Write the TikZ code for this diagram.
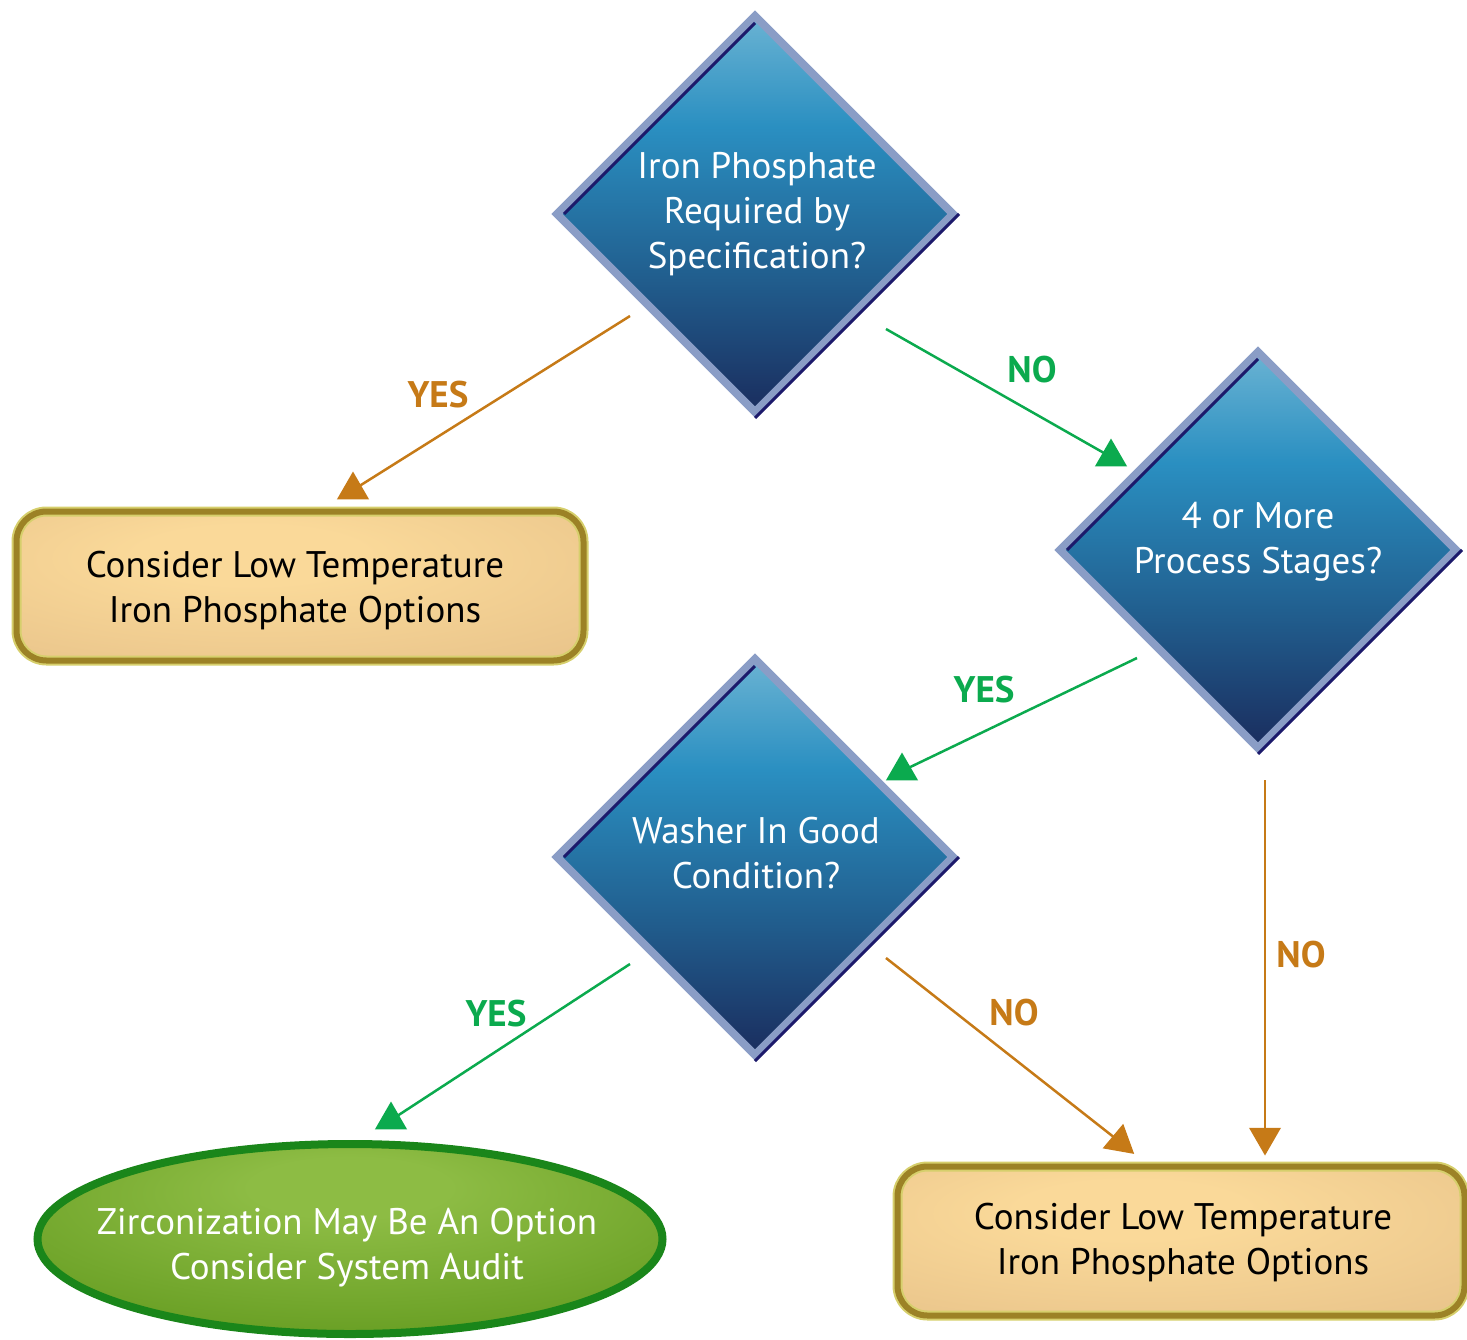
\documentclass[tikz,border=0pt]{standalone}
\usepackage{fontspec}
\setmainfont{PT Sans}
\usetikzlibrary{shapes.geometric,calc}
\definecolor{dtop}{HTML}{6AB3D3}
\definecolor{dmid}{HTML}{2A8FC1}
\definecolor{dlow}{HTML}{215E8E}
\definecolor{dbot}{HTML}{1A2D5E}
\definecolor{dedge}{HTML}{8A9DC6}
\definecolor{dnavy}{HTML}{1C1A6B}
\definecolor{corange}{HTML}{C67A17}
\definecolor{cgreen}{HTML}{0BAA4E}
\definecolor{boxin}{HTML}{FAD999}
\definecolor{boxout}{HTML}{E8C38A}
\definecolor{boxedge}{HTML}{9C8226}
\definecolor{boxlight}{HTML}{D6CF6C}
\definecolor{ellin}{HTML}{8DBC44}
\definecolor{ellout}{HTML}{5A9317}
\definecolor{elledge}{HTML}{1A861A}
\pgfdeclareverticalshading{dshade}{100bp}{color(0bp)=(dbot); color(25bp)=(dbot); color(42bp)=(dlow); color(61bp)=(dmid); color(75bp)=(dtop); color(100bp)=(dtop)}
\pgfdeclareradialshading{bshade}{\pgfpoint{-5bp}{12bp}}{color(0bp)=(boxin); color(10bp)=(boxin); color(42bp)=(boxout); color(80bp)=(boxout)}
\pgfdeclareradialshading{eshade}{\pgfpoint{0bp}{15bp}}{color(0bp)=(ellin); color(8bp)=(ellin); color(45bp)=(ellout); color(80bp)=(ellout)}
\tikzset{
  mainfont/.style={font=\fontsize{37}{45}\selectfont},
  dia/.style={diamond, shape aspect=1, minimum width=396pt, minimum height=396pt, inner sep=0pt, outer sep=0pt,
    shading=dshade, draw=dedge, line width=8pt},
  dtext/.style={mainfont, text=white, align=center, inner sep=0pt},
  navy/.style={draw=dnavy, line width=3pt},
  obox/.style={rectangle, rounded corners=30pt, minimum width=567pt, minimum height=149pt, inner sep=0pt, outer sep=0pt,
    shading=bshade, draw=boxlight, double=boxedge, double distance=6pt, line width=2pt},
  btext/.style={mainfont, text=black, align=center, inner sep=0pt},
  oell/.style={ellipse, minimum width=625pt, minimum height=190pt, inner sep=0pt, outer sep=0pt,
    shading=eshade, draw=elledge, line width=8pt},
  oline/.style={draw=corange, line width=2.5pt},
  gline/.style={draw=cgreen, line width=2.5pt},
  tri/.style={regular polygon, regular polygon sides=3, minimum size=37pt, inner sep=0pt, outer sep=0pt},
  otri/.style={tri, fill=corange},
  gtri/.style={tri, fill=cgreen},
  olab/.style={text=corange, font=\fontsize{37}{42}\selectfont\bfseries},
  glab/.style={text=cgreen, font=\fontsize{37}{42}\selectfont\bfseries}
}
\begin{document}
\begin{tikzpicture}[x=1pt, y=-1pt]
\useasboundingbox (0,0) rectangle (1467,1339);
% decision diamonds
\node[dia] (d1) at (755,214) {};
\node[dia] (d2) at (1258,550) {};
\node[dia] (d3) at (755,857) {};
\foreach \d in {d1,d2,d3}{
  \draw[navy] ($(\d.west)+(7,0)$) -- ($(\d.north)+(0,7)$);
  \draw[navy] ($(\d.east)+(6,0)$) -- ($(\d.south)+(0,6)$);
}
\node[dtext] (d1t) at ($(d1)+(2,0)$) {Iron Phosphate\\Required by\\Specification?};
\node[dtext] (d2t) at ($(d2)+(0,-8)$) {4 or More\\Process Stages?};
\node[dtext] (d3t) at ($(d3)+(1,-4)$) {Washer In Good\\Condition?};
% outcome boxes
\node[obox] (b1) at (300,586) {};
\node[btext] (b1t) at ($(b1)+(-5,5)$) {Consider Low Temperature\\Iron Phosphate Options};
\node[obox] (b2) at (1181,1241) {};
\node[btext] (b2t) at ($(b2)+(2,2)$) {Consider Low Temperature\\Iron Phosphate Options};
\node[oell] (e1) at (350,1239) {};
\node[dtext] (e1t) at ($(e1)+(-3,9)$) {Zirconization May Be An Option\\Consider System Audit};
% connector ends
\coordinate (s1) at ($(d1)+(-125,102)$);
\coordinate (h1) at ($(b1)+(53,-96)$);
\coordinate (s2) at ($(d1)+(131,115)$);
\coordinate (h2) at ($(d2)+(-147,-93)$);
\coordinate (s3) at ($(d2)+(-121,108)$);
\coordinate (h3) at ($(d3)+(147,-86)$);
\coordinate (s4) at ($(d2)+(7,230)$);
\coordinate (h4) at ($(b2)+(84,-104)$);
\coordinate (s5) at ($(d3)+(-125,107)$);
\coordinate (h5) at ($(e1)+(41,-119)$);
\coordinate (s6) at ($(d3)+(131,101)$);
\coordinate (h6) at ($(b2)+(-61,-99)$);
\draw[oline] (s1) -- (h1);
\draw[gline] (s2) -- (h2);
\draw[gline] (s3) -- (h3);
\draw[oline] (s4) -- (h4);
\draw[gline] (s5) -- (h5);
\draw[oline] (s6) -- (h6);
\node[otri] (t1) at (h1) {};
\node[gtri] (t2) at (h2) {};
\node[gtri] (t3) at (h3) {};
\node[otri, shape border rotate=180] (t4) at (h4) {};
\node[gtri] (t5) at (h5) {};
\node[otri, shape border rotate=-10] (t6) at (h6) {};
% labels
\node[olab] (l1) at (438,395) {YES};
\node[glab] (l2) at (1032,370) {NO};
\node[glab] (l3) at (984,690) {YES};
\node[olab] (l4) at (1301,955) {NO};
\node[glab] (l5) at (496,1014) {YES};
\node[olab] (l6) at (1014,1013) {NO};
\end{tikzpicture}
\end{document}
